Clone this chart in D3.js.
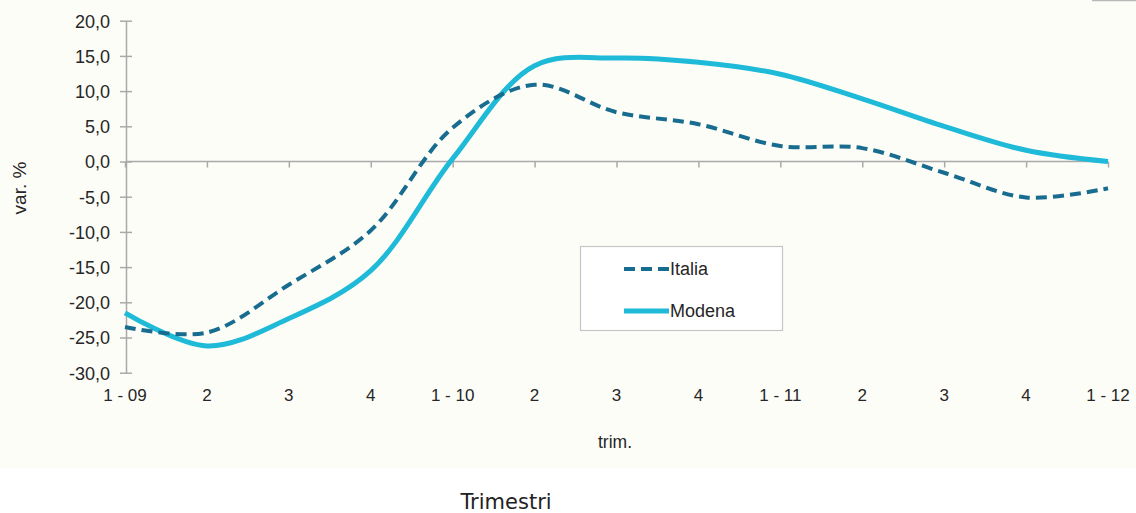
<!DOCTYPE html>
<html>
<head>
<meta charset="utf-8">
<script src="https://cdn.jsdelivr.net/npm/d3@7"></script>
<style>
  html, body { margin: 0; padding: 0; background: #ffffff; }
  svg { display: block; }
</style>
</head>
<body>
<svg id="chart" width="1136" height="513"></svg>
<script>
const categories = ["1 - 09", "2", "3", "4", "1 - 10", "2", "3", "4", "1 - 11", "2", "3", "4", "1 - 12"];
const italia = [-23.5, -24.3, -17.5, -9.8, 4.8, 10.9, 7.0, 5.3, 2.2, 1.9, -1.6, -5.1, -3.8];
const modena = [-21.5, -26.2, -22.3, -15.5, 0.4, 13.6, 14.7, 14.1, 12.4, 8.9, 5.0, 1.6, 0.0];
const yTicks = [20, 15, 10, 5, 0, -5, -10, -15, -20, -25, -30];
const seriesNames = ["Italia", "Modena"];

const svg = d3.select("#chart");
const W = 1136, H = 513;

// cream picture background
svg.append("rect").attr("x", 0).attr("y", 0).attr("width", W).attr("height", 468).attr("fill", "#fdfdf8");
svg.append("line").attr("x1", 1092).attr("x2", 1136).attr("y1", 0.5).attr("y2", 0.5).attr("stroke", "#b8b8b8").attr("stroke-width", 1.5);

const x = d3.scalePoint().domain(d3.range(categories.length)).range([125, 1108]);
const y = d3.scaleLinear().domain([-30, 20]).range([372.7, 20.7]);

const axisColor = "#a9a9a9";
const fontFam = "'Liberation Sans', Arial, sans-serif";
const textColor = "#262626";

// Y axis
const yAxis = d3.axisLeft(y).tickValues(yTicks).tickSizeInner(6).tickSizeOuter(0)
  .tickFormat(d => d3.format(".1f")(d).replace(".", ",").replace("−", "-"));
const gy = svg.append("g").attr("transform", "translate(126,0)").call(yAxis);
gy.select(".domain").attr("stroke", axisColor).attr("stroke-width", 1.5);
gy.selectAll(".tick line").attr("stroke", axisColor).attr("stroke-width", 1.5).attr("x1", 6).attr("x2", -6);
gy.selectAll(".tick text").attr("x", -16).attr("font-family", fontFam).attr("font-size", 18)
  .attr("fill", textColor).attr("dy", "0.35em");

// X axis at zero line
const xAxis = d3.axisBottom(x).tickSizeInner(6).tickSizeOuter(0).tickFormat(() => "");
const gx = svg.append("g").attr("transform", `translate(0,${y(0)})`).call(xAxis);
gx.select(".domain").attr("stroke", axisColor).attr("stroke-width", 1.5).attr("d", `M126,0H${x(categories.length-1)}`);
gx.selectAll(".tick line").attr("stroke", axisColor).attr("stroke-width", 1.5);

// X category labels at bottom
svg.append("g").selectAll("text").data(categories).join("text")
  .attr("x", (d, i) => x(i)).attr("y", 401)
  .attr("text-anchor", "middle").attr("font-family", fontFam).attr("font-size", 17).attr("fill", textColor)
  .text(d => d);

// axis titles
svg.append("text").attr("transform", "translate(26,188) rotate(-90)")
  .attr("text-anchor", "middle").attr("font-family", fontFam).attr("font-size", 19).attr("fill", textColor)
  .text("var. %");
svg.append("text").attr("x", 615).attr("y", 448)
  .attr("text-anchor", "middle").attr("font-family", fontFam).attr("font-size", 17.5).attr("fill", textColor)
  .text("trim.");

// lines
const line = d3.line().x((d, i) => x(i)).y(d => y(d)).curve(d3.curveCatmullRom.alpha(0.5));
const colors = { Italia: "#176c8f", Modena: "#1fbad8" };

svg.append("path").datum(modena).attr("d", line).attr("fill", "none")
  .attr("stroke", colors.Modena).attr("stroke-width", 5).attr("stroke-linecap", "butt");
svg.append("path").datum(italia).attr("d", line).attr("fill", "none")
  .attr("stroke", colors.Italia).attr("stroke-width", 4).attr("stroke-dasharray", "11,6");

// legend
const lg = svg.append("g");
lg.append("rect").attr("x", 580.5).attr("y", 246.5).attr("width", 202).attr("height", 84)
  .attr("fill", "#ffffff").attr("stroke", "#c6c6c6").attr("stroke-width", 1.2);
const legendRows = [
  { name: seriesNames[0], y: 269, dash: "11,6", w: 4 },
  { name: seriesNames[1], y: 311, dash: null, w: 5 }
];
legendRows.forEach(r => {
  lg.append("line").attr("x1", 624).attr("x2", 669).attr("y1", r.y).attr("y2", r.y)
    .attr("stroke", colors[r.name]).attr("stroke-width", r.w).attr("stroke-dasharray", r.dash);
  lg.append("text").attr("x", 670).attr("y", r.y).attr("dy", "0.35em")
    .attr("font-family", fontFam).attr("font-size", 18).attr("fill", textColor).text(r.name);
});

// caption
svg.append("text").attr("x", 506).attr("y", 509).attr("text-anchor", "middle")
  .attr("font-family", "'DejaVu Sans', Verdana, sans-serif").attr("font-size", 21).attr("fill", "#222")
  .text("Trimestri");
</script>
</body>
</html>
